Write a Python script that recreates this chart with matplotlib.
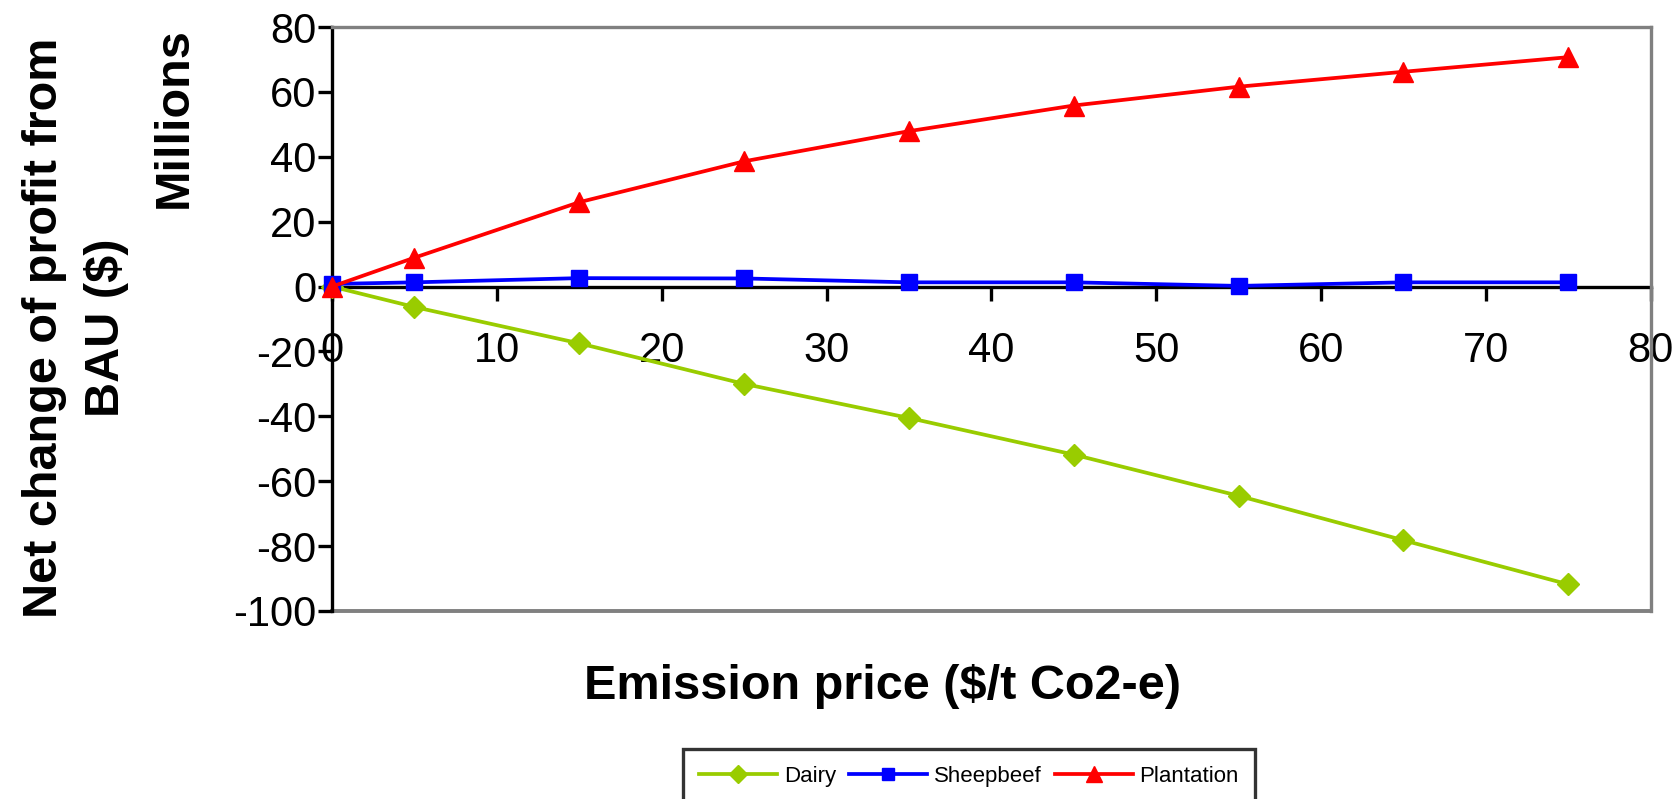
import matplotlib.pyplot as plt
import matplotlib.font_manager as fm

# emission price ($/t CO2-e)
price = [0, 5, 15, 25, 35, 45, 55, 65, 75]

# net change of profit from BAU, millions $
dairy = [0, -6.3, -17.5, -30.0, -40.5, -51.8, -64.5, -78.2, -91.8]
sheepbeef = [0.8, 1.3, 2.6, 2.5, 1.3, 1.3, 0.2, 1.3, 1.3]
plantation = [0, 8.9, 26.0, 38.6, 47.9, 55.8, 61.6, 66.2, 70.7]

xticks = [0, 10, 20, 30, 40, 50, 60, 70, 80]
yticks = [-100, -80, -60, -40, -20, 0, 20, 40, 60, 80]

plt.rcParams['font.family'] = ['Liberation Sans', 'DejaVu Sans']
plt.rcParams['axes.unicode_minus'] = False

fig = plt.figure(figsize=(16.81, 7.99), dpi=100)
ax = fig.add_axes([0.1975, 0.2353, 0.982 - 0.1975, 0.9662 - 0.2353])

ax.plot(price, dairy, color='#99CC00', lw=2.7, marker='D', ms=11,
        label='Dairy', clip_on=False, zorder=3)
ax.plot(price, sheepbeef, color='#0000FF', lw=2.7, marker='s', ms=11,
        label='Sheepbeef', clip_on=False, zorder=4)
ax.plot(price, plantation, color='#FF0000', lw=2.7, marker='^', ms=15,
        label='Plantation', clip_on=False, zorder=5)

ax.set_xlim(0, 80)
ax.set_ylim(-100, 80)
ax.set_xticks(xticks)
ax.set_yticks(yticks)

# excel style frame: black axes through 0, grey plot-area border
ax.spines['bottom'].set_position(('data', 0))
ax.spines['bottom'].set_color('black')
ax.spines['left'].set_color('black')
for s in ['bottom', 'left']:
    ax.spines[s].set_linewidth(2.4)
    ax.spines[s].set_zorder(2)
for s in ['top', 'right']:
    ax.spines[s].set_color('#808080')
    ax.spines[s].set_linewidth(2.4)
ax.plot([0, 1], [0, 0], transform=ax.transAxes, color='#808080', lw=2.8,
        clip_on=False, zorder=1)

ax.tick_params(axis='x', direction='out', length=10, width=2.4,
               labelsize=30, pad=22)
ax.tick_params(axis='y', direction='out', length=10, width=2.4,
               labelsize=30, pad=1)

fig.text(0.045, 0.59, 'Net change of profit from\nBAU ($)', rotation=90,
         ha='center', va='center', fontsize=35, fontweight='bold',
         linespacing=1.5)
fig.text(0.1035, 0.966, 'Millions', rotation=90, ha='center', va='top',
         fontsize=35, fontweight='bold')
fig.text(0.525, 0.141, 'Emission price ($/t Co2-e)', ha='center',
         va='center', fontsize=35, fontweight='bold')

names = [f.name for f in fm.fontManager.ttflist]
legfont = 'Liberation Sans Narrow' if 'Liberation Sans Narrow' in names else 'Liberation Sans'
leg = fig.legend(loc='upper center', bbox_to_anchor=(0.5765, 0.076), ncol=3,
                 frameon=True, fancybox=False, edgecolor='black',
                 prop={'family': legfont, 'size': 16}, handlelength=3.5,
                 handletextpad=0.3, columnspacing=0.6, borderpad=0.75,
                 markerscale=0.8)
leg.get_frame().set_linewidth(2.4)

fig.savefig('out.png', dpi=100)
